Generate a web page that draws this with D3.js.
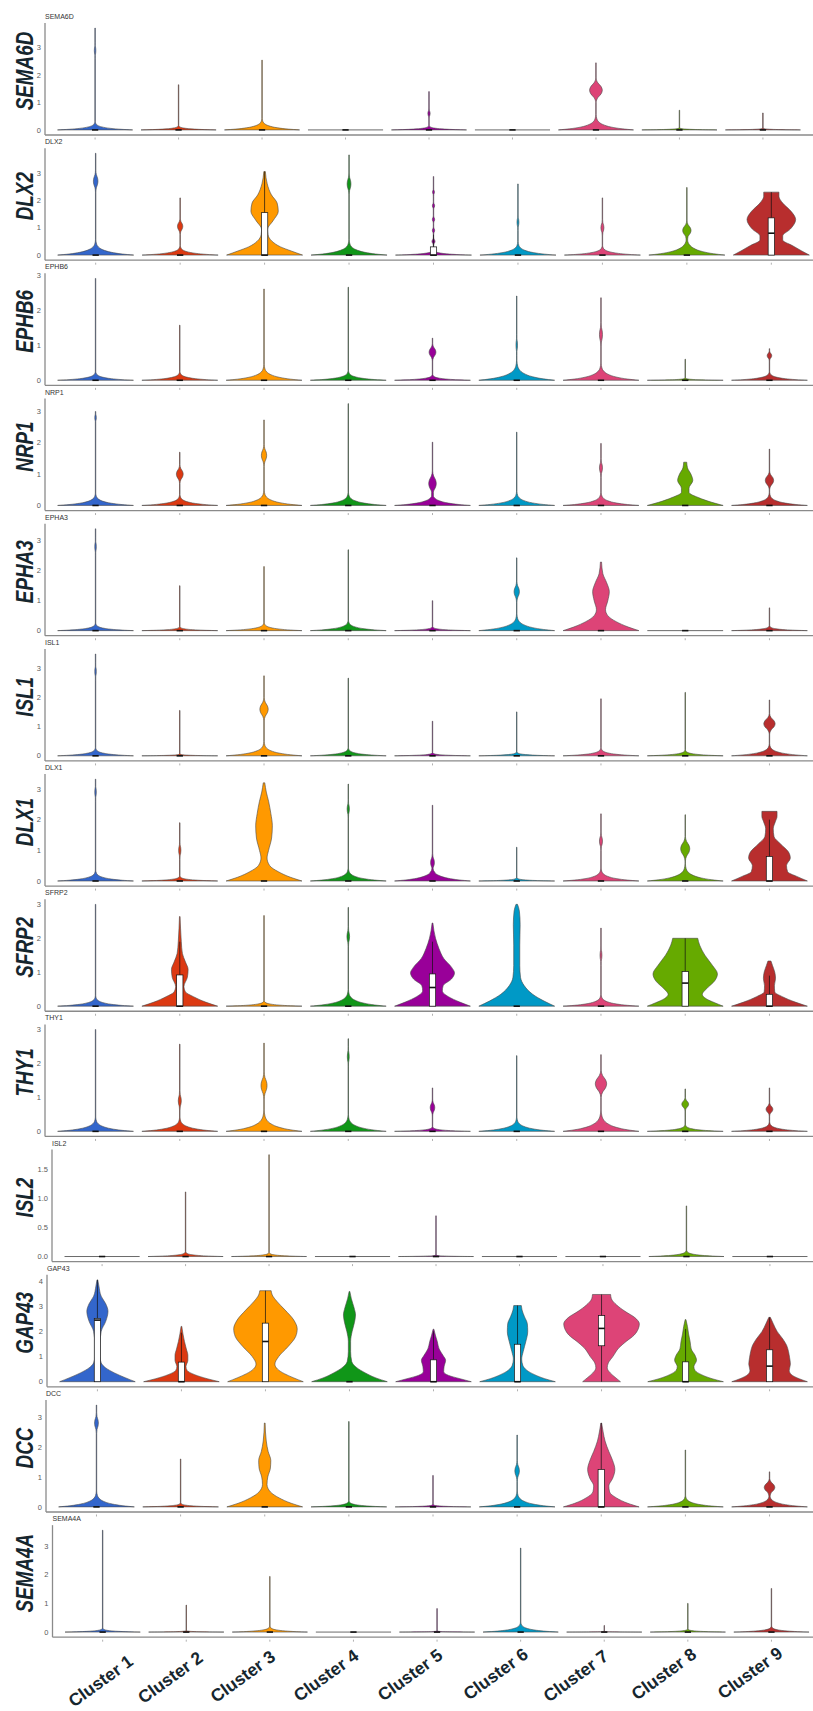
<!DOCTYPE html>
<html>
<head>
<meta charset="utf-8">
<script src="https://cdn.jsdelivr.net/npm/d3@7"></script>
<style>
  body { margin: 0; background: #fff; }
  svg { display: block; }
</style>
</head>
<body>
<svg id="chart" width="813" height="1711"></svg>
<script>
// ---- data -------------------------------------------------------------
const clusters = ["Cluster 1", "Cluster 2", "Cluster 3", "Cluster 4", "Cluster 5",
                  "Cluster 6", "Cluster 7", "Cluster 8", "Cluster 9"];
const clusterColors = ["#3366CC", "#DC3912", "#FF9900", "#109618", "#990099",
                       "#0099C6", "#DD4477", "#66AA00", "#B82E2E"];
const genes = ["SEMA6D", "DLX2", "EPHB6", "NRP1", "EPHA3", "ISL1", "DLX1",
               "SFRP2", "THY1", "ISL2", "GAP43", "DCC", "SEMA4A"];
const geneTicks = [[0,1,2,3],[0,1,2,3],[0,1,2,3],[0,1,2,3],[0,1,2,3],[0,1,2,3],[0,1,2,3],
                   [0,1,2,3],[0,1,2,3],[0,0.5,1,1.5],[0,1,2,3,4],[0,1,2,3],[0,1,2,3]];

// Violin outlines per cluster. Either [max, base height, ...modes [y, half-width, spread]]
// or an explicit outline [[expression, relative half-width], ...]. [0] = all cells at zero.
const vSEMA6D = [
  [3.72, 0.22, [2.9, 0.02, 0.3]], [1.65, 0.12], [2.55, 0.3], [0],
  [1.4, 0.12, [0.6, 0.03, 0.2]], [0], [2.45, 0.4, [1.45, 0.17, 0.45]],
  [0.72, 0.06], [0.62, 0.05]
];
const vDLX2 = [
  [3.72, 0.4, [2.7, 0.06, 0.4]], [2.09, 0.25, [1.05, 0.07, 0.3]],
  [[0,1],[0.15,0.7],[0.3,0.42],[0.5,0.2],[0.75,0.09],[0.95,0.08],[1.25,0.22],[1.6,0.36],[1.9,0.33],[2.2,0.18],[2.6,0.07],[3.05,0.02]],
  [3.66, 0.4, [2.6, 0.05, 0.4]],
  [2.87, 0.15, [0.5, 0.04, 0.15], [0.9, 0.03, 0.15], [1.3, 0.03, 0.15], [1.8, 0.03, 0.15], [2.3, 0.025, 0.15]],
  [2.6, 0.35, [1.2, 0.025, 0.3]], [2.09, 0.25, [1.0, 0.04, 0.3]], [2.47, 0.5, [0.9, 0.11, 0.35]],
  [[0,1],[0.15,0.8],[0.35,0.55],[0.55,0.3],[0.7,0.3],[0.95,0.5],[1.3,0.64],[1.6,0.52],[1.9,0.3],[2.15,0.2],[2.3,0.2]]
];
const vEPHB6 = [
  [2.9, 0.18], [1.57, 0.18], [2.6, 0.32], [2.65, 0.2], [1.2, 0.12, [0.8, 0.09, 0.25]],
  [2.4, 0.4, [1.0, 0.02, 0.3]], [2.35, 0.35, [1.3, 0.04, 0.35]], [0.6, 0.05],
  [0.9, 0.18, [0.7, 0.06, 0.15]]
];
const vNRP1 = [
  [3.0, 0.28, [2.8, 0.02, 0.2]], [1.7, 0.25, [1.0, 0.09, 0.3]], [2.73, 0.35, [1.6, 0.07, 0.35]],
  [3.25, 0.3], [2.02, 0.3, [0.7, 0.1, 0.4]], [2.34, 0.32], [1.98, 0.3, [1.2, 0.04, 0.3]],
  [[0,1],[0.1,0.7],[0.25,0.35],[0.42,0.1],[0.55,0.1],[0.8,0.2],[1.0,0.15],[1.2,0.06],[1.38,0.04]],
  [1.8, 0.3, [0.8, 0.11, 0.3]]
];
const vEPHA3 = [
  [3.4, 0.18, [2.8, 0.02, 0.3]], [1.5, 0.1], [2.14, 0.2], [2.7, 0.25], [1.0, 0.1],
  [2.43, 0.4, [1.3, 0.07, 0.35]],
  [[0,1],[0.12,0.72],[0.3,0.4],[0.5,0.18],[0.7,0.12],[1.0,0.18],[1.3,0.22],[1.6,0.15],[1.9,0.05],[2.29,0.015]],
  [0], [0.76, 0.12]
];
const vISL1 = [
  [3.5, 0.2, [2.9, 0.02, 0.3]], [1.56, 0.05], [2.75, 0.35, [1.6, 0.11, 0.4]], [2.67, 0.2],
  [1.19, 0.08], [1.51, 0.1], [1.96, 0.2], [2.18, 0.15], [1.92, 0.3, [1.1, 0.15, 0.35]]
];
const vDLX1 = [
  [3.32, 0.25, [2.9, 0.02, 0.3]], [1.9, 0.12, [1.0, 0.03, 0.3]],
  [[0,1],[0.12,0.7],[0.3,0.38],[0.5,0.15],[0.75,0.08],[1.0,0.12],[1.4,0.2],[1.8,0.22],[2.2,0.18],[2.6,0.12],[2.9,0.06],[3.2,0.02]],
  [3.16, 0.3, [2.35, 0.03, 0.3]], [2.47, 0.35, [0.6, 0.05, 0.3]], [1.1, 0.08],
  [2.19, 0.3, [1.3, 0.04, 0.3]], [2.16, 0.4, [1.05, 0.12, 0.4]],
  [[0,1],[0.15,0.72],[0.3,0.48],[0.5,0.45],[0.75,0.55],[0.95,0.5],[1.2,0.3],[1.45,0.12],[1.7,0.1],[1.95,0.16],[2.1,0.2],[2.27,0.2]]
];
const vSFRP2 = [
  [3.0, 0.22],
  [[0,1],[0.12,0.68],[0.28,0.36],[0.42,0.15],[0.58,0.11],[0.85,0.2],[1.08,0.22],[1.3,0.15],[1.55,0.07],[1.9,0.04],[2.3,0.02],[2.64,0.008]],
  [2.67, 0.12], [2.91, 0.35, [2.05, 0.035, 0.3]],
  [[0,1],[0.12,0.72],[0.28,0.42],[0.45,0.26],[0.6,0.28],[0.8,0.5],[0.98,0.58],[1.15,0.5],[1.4,0.3],[1.7,0.17],[2.0,0.08],[2.45,0.01]],
  [[0,1],[0.15,0.72],[0.35,0.42],[0.6,0.2],[0.85,0.1],[1.2,0.08],[1.8,0.08],[2.4,0.09],[2.8,0.07],[3.0,0.02]],
  [2.3, 0.25, [1.5, 0.025, 0.3]],
  [[0,1],[0.1,0.78],[0.22,0.55],[0.35,0.45],[0.5,0.55],[0.75,0.78],[0.95,0.85],[1.2,0.72],[1.5,0.52],[1.8,0.38],[2.0,0.33]],
  [[0,1],[0.12,0.68],[0.28,0.34],[0.42,0.14],[0.6,0.13],[0.82,0.16],[1.0,0.14],[1.2,0.08],[1.33,0.04]]
];
const vTHY1 = [
  [3.0, 0.3], [2.57, 0.3, [0.9, 0.04, 0.3]], [2.6, 0.45, [1.35, 0.08, 0.4]],
  [2.73, 0.35, [2.2, 0.025, 0.3]], [1.28, 0.1, [0.7, 0.06, 0.25]], [2.23, 0.3],
  [2.26, 0.45, [1.4, 0.15, 0.4]], [1.25, 0.15, [0.8, 0.09, 0.2]], [1.28, 0.2, [0.65, 0.09, 0.2]]
];
const vISL2 = [
  [0], [1.11, 0.06], [1.75, 0.05], [0], [0.7, 0.02], [0], [0], [0.87, 0.08], [0]
];
const vGAP43 = [
  [[0,1],[0.15,0.75],[0.35,0.45],[0.55,0.22],[0.75,0.1],[1.0,0.07],[1.5,0.07],[2.0,0.1],[2.4,0.22],[2.8,0.28],[3.1,0.22],[3.4,0.1],[3.8,0.04],[4.05,0.01]],
  [[0,1],[0.12,0.68],[0.28,0.35],[0.45,0.15],[0.6,0.12],[0.85,0.17],[1.05,0.17],[1.3,0.13],[1.6,0.08],[1.9,0.04],[2.2,0.01]],
  [[0,1],[0.15,0.75],[0.32,0.5],[0.5,0.32],[0.7,0.25],[1.0,0.35],[1.4,0.6],[1.8,0.8],[2.1,0.84],[2.45,0.75],[2.85,0.52],[3.2,0.3],[3.45,0.18],[3.62,0.15]],
  [[0,1],[0.15,0.7],[0.35,0.42],[0.55,0.2],[0.8,0.06],[1.2,0.03],[1.6,0.03],[2.0,0.07],[2.35,0.13],[2.65,0.16],[2.95,0.12],[3.3,0.05],[3.59,0.01]],
  [[0,1],[0.12,0.7],[0.25,0.4],[0.4,0.27],[0.6,0.28],[0.85,0.32],[1.05,0.25],[1.3,0.15],[1.6,0.1],[1.85,0.05],[2.09,0.01]],
  [[0,1],[0.12,0.72],[0.28,0.45],[0.45,0.25],[0.65,0.14],[0.9,0.11],[1.2,0.15],[1.6,0.22],[2.0,0.27],[2.3,0.26],[2.6,0.18],[2.85,0.12],[3.03,0.1]],
  [[0,0.5],[0.15,0.38],[0.35,0.23],[0.55,0.15],[0.75,0.18],[1.0,0.3],[1.35,0.46],[1.6,0.65],[1.85,0.86],[2.1,0.97],[2.3,1.0],[2.55,0.88],[2.8,0.62],[3.05,0.4],[3.3,0.26],[3.47,0.24]],
  [[0,1],[0.12,0.7],[0.28,0.42],[0.45,0.25],[0.6,0.22],[0.85,0.29],[1.05,0.25],[1.3,0.15],[1.6,0.12],[1.9,0.08],[2.2,0.05],[2.47,0.01]],
  [[0,1],[0.12,0.78],[0.28,0.58],[0.45,0.52],[0.7,0.55],[0.95,0.53],[1.2,0.5],[1.45,0.45],[1.7,0.35],[2.0,0.2],[2.3,0.1],[2.56,0.02]]
];
const vDCC = [
  [3.4, 0.38, [2.8, 0.05, 0.35]], [1.6, 0.1],
  [[0,1],[0.12,0.7],[0.3,0.38],[0.5,0.15],[0.75,0.06],[1.0,0.08],[1.3,0.15],[1.55,0.16],[1.85,0.09],[2.2,0.04],[2.8,0.01]],
  [2.85, 0.15], [1.05, 0.06], [2.4, 0.38, [1.2, 0.06, 0.35]],
  [[0,1],[0.12,0.7],[0.3,0.4],[0.5,0.22],[0.7,0.2],[0.95,0.3],[1.25,0.36],[1.55,0.3],[1.85,0.2],[2.2,0.1],[2.5,0.05],[2.8,0.01]],
  [1.9, 0.28], [1.17, 0.3, [0.65, 0.14, 0.3]]
];
const vSEMA4A = [
  [3.55, 0.1], [0.94, 0.04], [1.94, 0.15], [0], [0.82, 0.03], [2.93, 0.25],
  [0.23, 0.02], [1.0, 0.08], [1.52, 0.15]
];

// Box summaries [lower whisker, Q1, median, Q3, upper whisker]; null = all at zero.
const bDLX2   = [null, null, [0,0,0,1.55,3.05], null, [0,0,0,0.3,0.75], null, null, null, [0,0,0.8,1.36,2.3]];
const bDLX1   = [null, null, null, null, null, null, null, null, [0,0,0,0.8,2.0]];
const bSFRP2  = [null, [0,0,0,0.92,1.9], null, null, [0,0,0.55,0.95,1.9], null, null, [0,0,0.68,1.02,2.0], [0,0,0,0.35,0.9]];
const bGAP43  = [[0,0,2.45,2.52,4.05], [0,0,0,0.78,1.95], [0,0,1.6,2.33,3.62], null, [0,0,0,0.87,2.0],
                 [0,0,0,1.49,3.03], [0,1.43,2.12,2.63,3.47], [0,0,0,0.79,2.1], [0,0,0.62,1.27,2.56]];
const bDCC    = [null, null, null, null, null, null, [0,0,0,1.25,2.8], null, null];
const bNone   = [null, null, null, null, null, null, null, null, null];

const violinData = [vSEMA6D, vDLX2, vEPHB6, vNRP1, vEPHA3, vISL1, vDLX1, vSFRP2, vTHY1, vISL2, vGAP43, vDCC, vSEMA4A];
const boxData    = [bNone, bDLX2, bNone, bNone, bNone, bNone, bDLX1, bSFRP2, bNone, bNone, bGAP43, bDCC, bNone];

// ---- layout -----------------------------------------------------------
const W = 813, H = 1711;
const FIRST_AXIS = 135, PITCH = 125.18, PLOT_H = 112;
const panelLeft  = [45, 45, 45, 45, 45, 45, 45, 45, 45, 52, 47, 46, 52.5];
const panelRight = [813, 822, 820, 820, 820, 820, 820, 820, 820, 820, 820, 820, 821.6];
// horizontal shift and vertical centre of each rotated cluster name
const labelDx = [-2, -16, -27, -27.5, -27, -25, -28.5, -24, -21.5];
const labelY  = [1681, 1677.5, 1676.5, 1675.5, 1675, 1674, 1676, 1674, 1673];

// Outline shape of the zero-heavy base and the tail
const TAIL = 0.006;
const BASE_T = [0, 0.1, 0.25, 0.5, 0.75, 1, 1.4];
const BASE_W = [1, 0.7, 0.42, 0.18, 0.07, 0.025, TAIL];

function interp(knots, v) {
  if (v < knots[0][0] || v > knots[knots.length - 1][0]) return 0;
  for (let i = 1; i < knots.length; i++) {
    const [a, wa] = knots[i - 1], [b, wb] = knots[i];
    if (v <= b) return b === a ? Math.max(wa, wb) : wa + (wb - wa) * (v - a) / (b - a);
  }
  return 0;
}

// a mode is drawn as a smooth lens on the tail
function modeKnots([c, w, s]) {
  return [[c - s, TAIL], [c - 0.6 * s, 0.3 * w], [c - 0.3 * s, 0.8 * w], [c, w],
          [c + 0.3 * s, 0.8 * w], [c + 0.6 * s, 0.3 * w], [c + s, TAIL]];
}

function outline(spec) {
  if (Array.isArray(spec[0])) return spec;
  const [top, base, ...modes] = spec;
  if (!top) return null;
  const parts = [BASE_T.map((t, i) => [t * base, BASE_W[i]]), ...modes.map(modeKnots)];
  const ys = new Set([0, top]);
  parts.forEach(k => k.forEach(p => { if (p[0] > 0 && p[0] < top) ys.add(p[0]); }));
  return [...ys].sort((a, b) => a - b)
    .map(v => [v, Math.max(TAIL, ...parts.map(k => interp(k, v)))]);
}

function specTop(d) { return Array.isArray(d[0]) ? d[d.length - 1][0] : d[0]; }

// ---- drawing ----------------------------------------------------------
const svg = d3.select("#chart");
svg.append("rect").attr("width", W).attr("height", H).attr("fill", "#fff");

const FONT = "'Liberation Sans', Arial, sans-serif";
const INK = "#16262e";

genes.forEach((gene, gi) => {
  const spec = violinData[gi], boxes = boxData[gi];
  const B = FIRST_AXIS + gi * PITCH;
  const L = panelLeft[gi], R = panelRight[gi];
  const top = d3.max(spec, specTop);

  const y = d3.scaleLinear().domain([-0.05 * top, 1.05 * top]).range([B, B - PLOT_H]);
  const x = d3.scalePoint().domain(clusters).range([L, R]).padding(0.6);
  const hw = 0.45 * x.step();
  const bw = 0.075 * x.step() / 2;

  const g = svg.append("g").attr("class", "panel");

  // violins
  spec.forEach((d, ci) => {
    const cx = x(clusters[ci]);
    const prof = outline(d);
    if (!prof) {
      g.append("line").attr("x1", cx - hw).attr("x2", cx + hw)
        .attr("y1", y(0)).attr("y2", y(0))
        .attr("stroke", "#6a6a6a").attr("stroke-width", 1);
      return;
    }
    const area = d3.area().curve(d3.curveMonotoneY)
      .y(p => y(p[0])).x0(p => cx - p[1] * hw).x1(p => cx + p[1] * hw);
    g.append("path").attr("d", area(prof))
      .attr("fill", clusterColors[ci]).attr("stroke", "#484848").attr("stroke-width", 0.6);
  });

  // box summaries
  spec.forEach((d, ci) => {
    const cx = x(clusters[ci]);
    const [lo, q1, med, q3, hi] = boxes[ci] || [0, 0, 0, 0, 0];
    if (hi > q3) g.append("line").attr("x1", cx).attr("x2", cx).attr("y1", y(q3)).attr("y2", y(hi))
      .attr("stroke", "#111").attr("stroke-width", 0.7);
    if (q1 > lo) g.append("line").attr("x1", cx).attr("x2", cx).attr("y1", y(lo)).attr("y2", y(q1))
      .attr("stroke", "#111").attr("stroke-width", 0.7);
    if (q3 > q1) g.append("rect").attr("x", cx - bw).attr("width", 2 * bw)
      .attr("y", y(q3)).attr("height", y(q1) - y(q3))
      .attr("fill", "#fff").attr("stroke", "#111").attr("stroke-width", 0.7);
    g.append("line").attr("x1", cx - bw).attr("x2", cx + bw).attr("y1", y(med)).attr("y2", y(med))
      .attr("stroke", "#111").attr("stroke-width", 1.6);
  });

  // axes
  g.append("line").attr("x1", L).attr("x2", L).attr("y1", B - PLOT_H).attr("y2", B)
    .attr("stroke", "#8a8a8a").attr("stroke-width", 1.3);
  g.append("line").attr("x1", L).attr("x2", R).attr("y1", B).attr("y2", B)
    .attr("stroke", "#8a8a8a").attr("stroke-width", 1.3);

  const fmt = geneTicks[gi].some(t => t % 1) ? d3.format(".1f") : d3.format("d");
  g.selectAll("text.tick").data(geneTicks[gi]).join("text").attr("class", "tick")
    .attr("x", L - 4).attr("y", t => y(t)).attr("dy", "0.35em")
    .attr("text-anchor", "end").attr("font-family", FONT).attr("font-size", 7.5)
    .attr("fill", "#5a5a5a").text(fmt);

  g.selectAll("line.xtick").data(clusters).join("line").attr("class", "xtick")
    .attr("x1", c => x(c)).attr("x2", c => x(c)).attr("y1", B + 2.5).attr("y2", B + 4.5)
    .attr("stroke", "#b0b0b0").attr("stroke-width", 1);

  // small panel title
  g.append("text").attr("x", L).attr("y", B - 116)
    .attr("font-family", FONT).attr("font-size", 7).attr("fill", "#333").text(gene);

  // large gene label
  g.append("text")
    .attr("transform", `translate(25,${B - 64}) scale(1,0.82) rotate(-90)`)
    .attr("text-anchor", "middle").attr("dominant-baseline", "central")
    .attr("font-family", FONT).attr("font-weight", "bold").attr("font-style", "italic")
    .attr("font-size", 23).attr("fill", INK).text(gene);

  // cluster names under the last panel
  if (gi === genes.length - 1) {
    g.selectAll("text.xlab").data(clusters).join("text").attr("class", "xlab")
      .attr("transform", (c, i) => `translate(${x(c) + labelDx[i]},${labelY[i]}) rotate(-36)`)
      .attr("text-anchor", "middle").attr("dominant-baseline", "central")
      .attr("font-family", FONT).attr("font-weight", "bold").attr("font-size", 17.5)
      .attr("fill", INK).text(c => c);
  }
});
</script>
</body>
</html>
